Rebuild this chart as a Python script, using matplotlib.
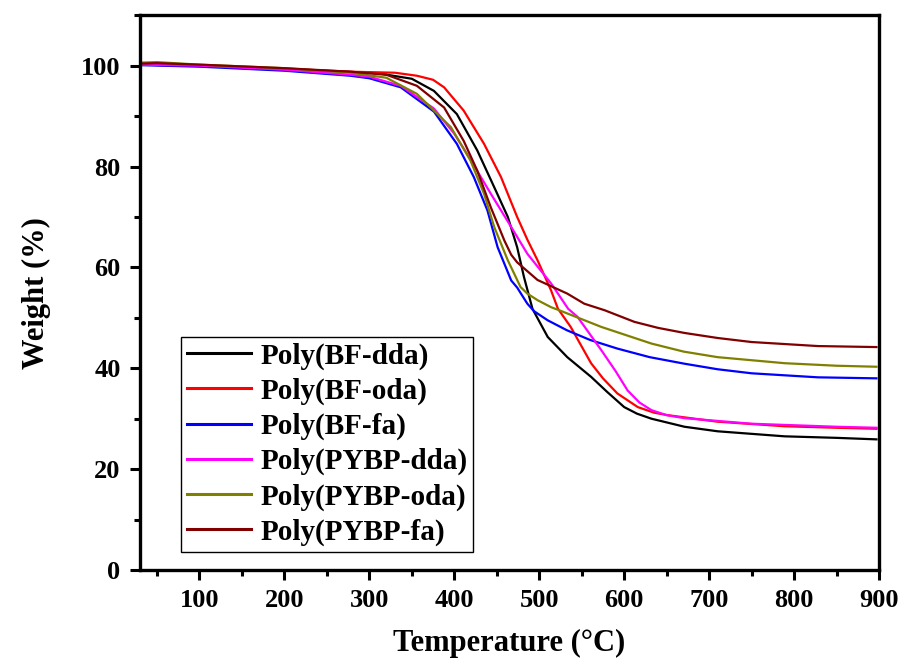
import matplotlib
matplotlib.use('Agg')
import matplotlib.pyplot as plt
from matplotlib.ticker import MultipleLocator

plt.rcParams['font.family'] = 'Liberation Serif'
plt.rcParams['font.weight'] = 'bold'

# readings from the TGA curves (temperature in C, weight in %)
bf_dda_t = [30, 100, 200, 300, 317, 350, 376, 403, 427, 447, 463, 474, 482, 492, 500, 510, 533, 561, 580, 600, 615, 632, 671, 710, 789, 850, 897]
bf_dda_w = [100.2, 100.0, 99.3, 98.6, 98.3, 97.4, 95.0, 90.4, 83.2, 75.9, 70.0, 64.0, 58.1, 51.8, 49.3, 46.2, 42.2, 38.3, 35.3, 32.3, 31.0, 30.0, 28.4, 27.5, 26.5, 26.2, 25.9]

bf_oda_t = [30, 100, 200, 278, 330, 356, 375, 388, 411, 435, 455, 474, 486, 498, 514, 522, 537, 561, 575, 592, 616, 635, 651, 710, 789, 850, 897]
bf_oda_w = [100.2, 100.0, 99.4, 98.8, 98.6, 98.0, 97.2, 95.7, 91.1, 84.5, 77.9, 70.0, 65.5, 61.4, 55.4, 51.8, 48.2, 41.0, 38.0, 35.0, 32.3, 31.2, 30.7, 29.4, 28.5, 28.2, 28.0]

bf_fa_t = [30, 100, 200, 278, 300, 337, 376, 403, 423, 439, 451, 467, 474, 486, 494, 510, 533, 560, 592, 630, 671, 710, 750, 828, 897]
bf_fa_w = [100.1, 99.8, 99.0, 98.0, 97.5, 95.7, 90.9, 84.5, 77.9, 71.3, 64.0, 57.4, 56.0, 52.8, 51.3, 49.5, 47.5, 45.6, 43.9, 42.2, 40.9, 39.8, 39.0, 38.2, 38.0]

pybp_dda_t = [30, 100, 200, 278, 300, 337, 376, 400, 415, 443, 467, 486, 514, 534, 545, 573, 590, 604, 618, 632, 650, 671, 750, 850, 897]
pybp_dda_w = [100.2, 100.0, 99.2, 98.2, 97.8, 96.0, 91.5, 86.5, 82.5, 74.6, 68.0, 62.7, 56.8, 51.8, 50.2, 43.6, 39.4, 35.6, 33.2, 31.7, 30.7, 30.1, 29.0, 28.4, 28.2]

pybp_oda_t = [30, 50, 100, 200, 278, 320, 356, 396, 419, 435, 447, 463, 478, 486, 498, 514, 522, 573, 632, 670, 710, 789, 850, 897]
pybp_oda_w = [100.6, 100.7, 100.2, 99.5, 98.6, 97.6, 94.4, 87.8, 81.2, 74.6, 68.0, 61.4, 56.1, 54.8, 53.5, 52.1, 51.6, 48.2, 44.9, 43.3, 42.2, 41.0, 40.5, 40.3]

pybp_fa_t = [30, 50, 100, 200, 278, 320, 356, 388, 411, 427, 443, 459, 467, 474, 498, 533, 553, 577, 612, 640, 671, 710, 750, 828, 897]
pybp_fa_w = [100.4, 100.5, 100.2, 99.5, 98.8, 98.2, 96.0, 91.7, 85.1, 79.2, 71.9, 65.3, 62.5, 61.0, 57.5, 54.8, 52.8, 51.5, 49.2, 48.0, 47.0, 46.0, 45.2, 44.4, 44.2]

labels = ['Poly(BF-dda)', 'Poly(BF-oda)', 'Poly(BF-fa)',
          'Poly(PYBP-dda)', 'Poly(PYBP-oda)', 'Poly(PYBP-fa)']
colors = ['black', 'red', 'blue', 'magenta', '#808000', '#800000']

series = [(bf_dda_t, bf_dda_w), (bf_oda_t, bf_oda_w), (bf_fa_t, bf_fa_w),
          (pybp_dda_t, pybp_dda_w), (pybp_oda_t, pybp_oda_w), (pybp_fa_t, pybp_fa_w)]

fig = plt.figure(figsize=(9.01, 6.62), dpi=100)
ax = fig.add_axes([0.1554, 0.139, 0.8202, 0.838])

for (t, w), lab, c in zip(series, labels, colors):
    ax.plot(t, w, color=c, lw=1.6, label=lab)

ax.set_xlim(30, 900)
ax.set_ylim(0, 110)
ax.xaxis.set_major_locator(MultipleLocator(100))
ax.xaxis.set_minor_locator(MultipleLocator(50))
ax.yaxis.set_major_locator(MultipleLocator(20))
ax.yaxis.set_minor_locator(MultipleLocator(10))
ax.set_xticks([100, 200, 300, 400, 500, 600, 700, 800, 900])

for s in ax.spines.values():
    s.set_linewidth(2.4)
ax.tick_params(which='major', direction='out', length=7, width=2.2, labelsize=19, pad=7)
ax.tick_params(which='minor', direction='out', length=4, width=2.2)

ax.set_xlabel('Temperature (\u00b0C)', fontsize=22, fontweight='bold', labelpad=12)
ax.set_ylabel('Weight (%)', fontsize=22, fontweight='bold', labelpad=22)

leg = ax.legend(loc='lower left', bbox_to_anchor=(0.056, 0.033), fontsize=21,
                frameon=True, fancybox=False, edgecolor='black', framealpha=1,
                handlelength=2.2, handletextpad=0.3, labelspacing=0.27,
                borderpad=0.2, borderaxespad=0)
leg.get_frame().set_linewidth(1.0)
for line in leg.get_lines():
    line.set_linewidth(2.2)

fig.savefig('out.png', dpi=100)
